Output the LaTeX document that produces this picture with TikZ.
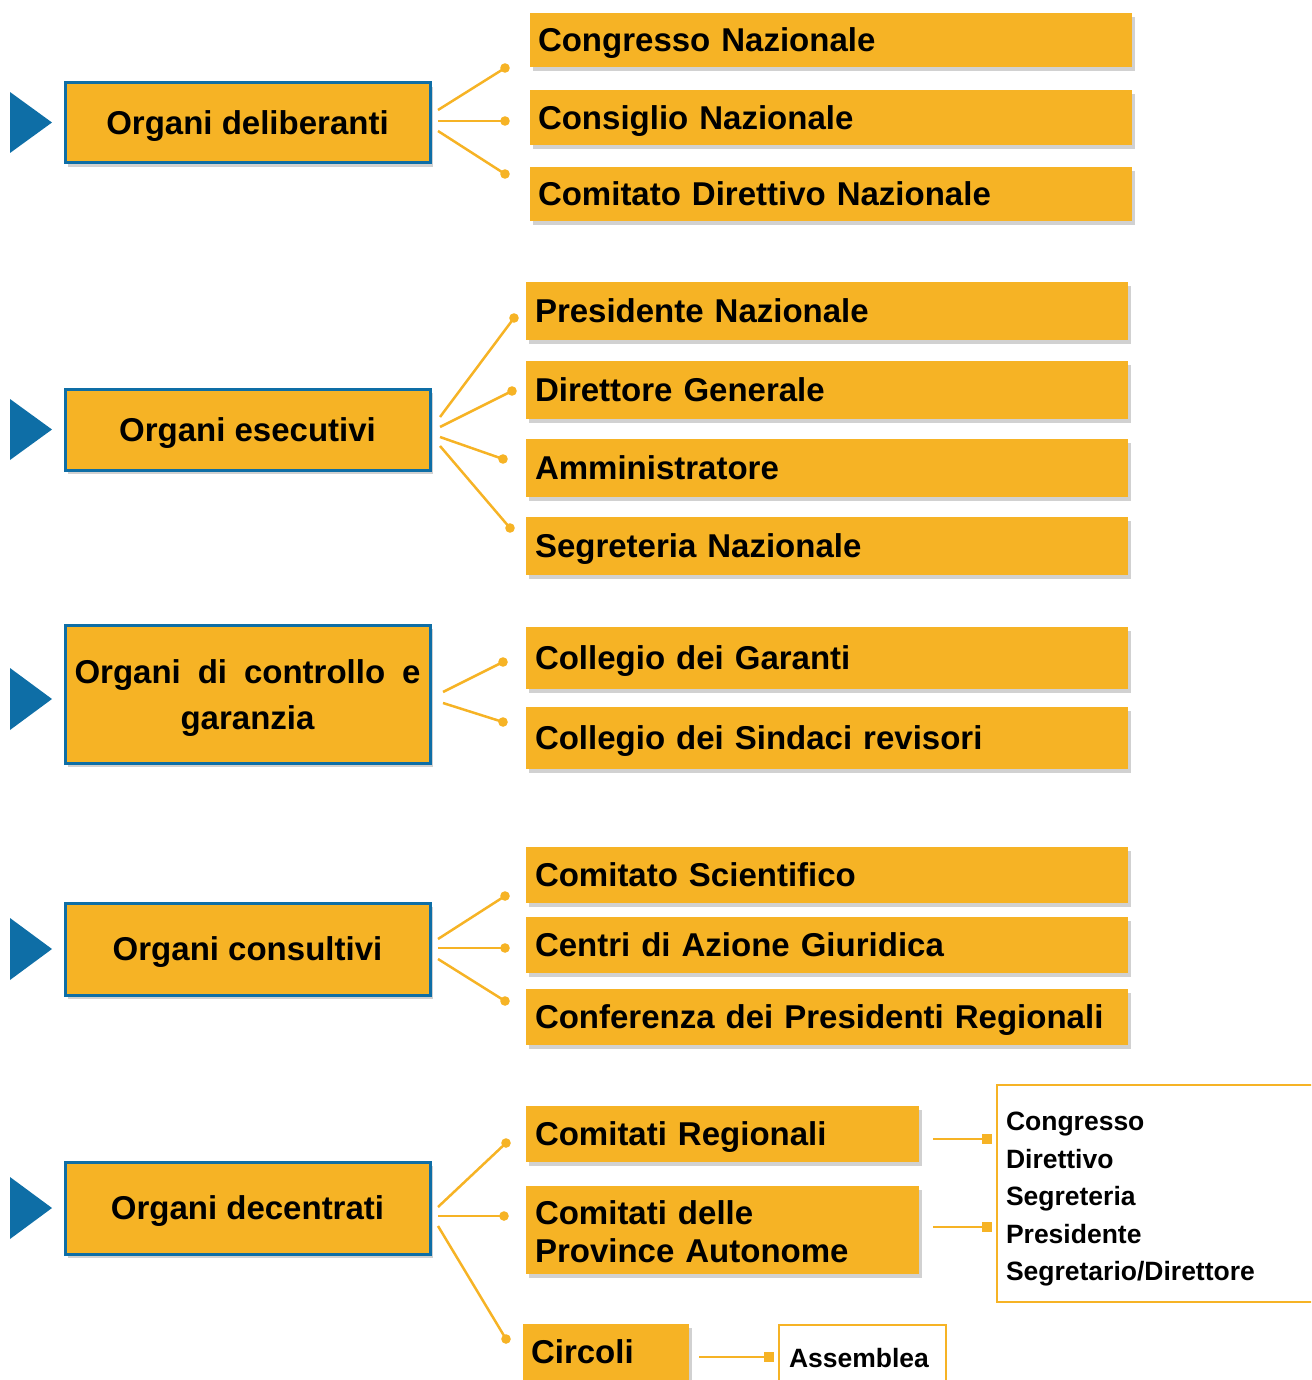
\documentclass[tikz,border=0pt]{standalone}
\usepackage{fontspec}
\setmainfont{Liberation Sans}
\usetikzlibrary{shadows,calc}
\definecolor{org}{HTML}{F6B325}
\definecolor{blu}{HTML}{0E6EA6}
\begin{document}
\begin{tikzpicture}[x=1pt,y=-1pt,
  big/.style={font=\fontsize{33}{38}\selectfont\bfseries},
  small/.style={font=\fontsize{26.5}{37.5}\selectfont\bfseries},
  one/.style={text depth=0pt},
  lbox/.style={big, draw=blu, line width=3pt, fill=org, minimum width=365pt, align=center, inner sep=0pt,
    drop shadow={shadow xshift=3pt, shadow yshift=-4pt, opacity=0.3, fill=black!60}},
  rbox/.style={big, fill=org, inner xsep=9pt, inner ysep=0pt, align=left,
    drop shadow={shadow xshift=3pt, shadow yshift=-4pt, opacity=0.3, fill=black!60}},
  wbox/.style={small, draw=org, line width=2.5pt, fill=white, align=left, inner xsep=9pt, inner ysep=0pt},
  conn/.style={draw=org, line width=2.5pt},
  dot/.style={fill=org},
  tri/.style={fill=blu}
]
\clip (0,0) rectangle (1311,1380);
% left boxes
\node[lbox, one, minimum height=80pt] (d1) at (247.5,123) {Organi deliberanti};
\node[lbox, one, minimum height=81pt] (d2) at (247.5,429.5) {Organi esecutivi};
\node[lbox, minimum height=138pt] (d3) at (247.5,694) {\makebox[346pt][s]{Organi di controllo e\rule{0pt}{32pt}}\\[8pt]garanzia};
\node[lbox, one, minimum height=92pt] (d4) at (247.5,949) {Organi consultivi};
\node[lbox, one, minimum height=92pt] (d5) at (247.5,1208) {Organi decentrati};
% triangles
\fill[tri] (10,92) -- (52,122.5) -- (10,153) -- cycle;
\fill[tri] (10,399) -- (52,429.5) -- (10,460) -- cycle;
\fill[tri] (10,668) -- (52,699) -- (10,730) -- cycle;
\fill[tri] (10,918) -- (52,949) -- (10,980) -- cycle;
\fill[tri] (10,1177) -- (52,1208) -- (10,1239) -- cycle;
% group 1
\node[rbox, one, inner xsep=8pt, text width=586pt, minimum height=54pt] (c11) at (831,40) {Congresso Nazionale};
\node[rbox, one, inner xsep=8pt, text width=586pt, minimum height=55pt] (c12) at (831,117.5) {Consiglio Nazionale};
\node[rbox, one, inner xsep=8pt, text width=586pt, minimum height=54pt] (c13) at (831,194) {Comitato Direttivo Nazionale};
% group 2
\node[rbox, one, text width=584pt, minimum height=58pt] (c21) at (827,311) {Presidente Nazionale};
\node[rbox, one, text width=584pt, minimum height=58pt] (c22) at (827,390) {Direttore Generale};
\node[rbox, one, text width=584pt, minimum height=58pt] (c23) at (827,468) {Amministratore};
\node[rbox, one, text width=584pt, minimum height=58pt] (c24) at (827,546) {Segreteria Nazionale};
% group 3
\node[rbox, one, text width=584pt, minimum height=62pt] (c31) at (827,658) {Collegio dei Garanti};
\node[rbox, one, text width=584pt, minimum height=62pt] (c32) at (827,738) {Collegio dei Sindaci revisori};
% group 4
\node[rbox, one, text width=584pt, minimum height=56pt] (c41) at (827,875) {Comitato Scientifico};
\node[rbox, one, text width=584pt, minimum height=56pt] (c42) at (827,945) {Centri di Azione Giuridica};
\node[rbox, one, text width=584pt, minimum height=56pt] (c43) at (827,1017) {Conferenza dei Presidenti Regionali};
% group 5
\node[rbox, one, text width=375pt, minimum height=56pt] (c51) at (722.5,1134) {Comitati Regionali};
\node[rbox, text width=375pt, minimum height=88pt] (c52) at (722.5,1230) {Comitati delle\rule{0pt}{28pt}\\Province Autonome};
\node[rbox, text depth=10pt, inner xsep=8pt, text width=150pt, minimum height=66pt] (c53) at (606,1357) {Circoli};
\node[wbox, text width=305pt, minimum height=217pt] (w1) at (1158.5,1193.5) {Congresso\rule{0pt}{30pt}\\Direttivo\\Segreteria\\Presidente\\Segretario/Direttore};
\node[wbox, one, inner xsep=10pt, text width=147pt, minimum height=66pt] (w2) at (862.5,1358) {Assemblea};
% connectors group 1
\coordinate (s11) at (438,110); \coordinate (e11) at (505,68);
\coordinate (s12) at (438,121); \coordinate (e12) at (505,121);
\coordinate (s13) at (438,131); \coordinate (e13) at (505,174);
% group 2
\coordinate (s21) at (440,417); \coordinate (e21) at (514,318);
\coordinate (s22) at (440,427); \coordinate (e22) at (512,391);
\coordinate (s23) at (440,437); \coordinate (e23) at (503,459);
\coordinate (s24) at (440,446); \coordinate (e24) at (510,528);
% group 3
\coordinate (s31) at (443,692); \coordinate (e31) at (503,662);
\coordinate (s32) at (443,703); \coordinate (e32) at (503,722);
% group 4
\coordinate (s41) at (438,939); \coordinate (e41) at (505,896);
\coordinate (s42) at (438,948); \coordinate (e42) at (505,948);
\coordinate (s43) at (438,959); \coordinate (e43) at (505,1001);
% group 5
\coordinate (s51) at (438,1207); \coordinate (e51) at (506,1143);
\coordinate (s52) at (438,1216); \coordinate (e52) at (504,1216);
\coordinate (s53) at (438,1226); \coordinate (e53) at (506,1339);
\foreach \c in {11,12,13,21,22,23,24,31,32,41,42,43,51,52,53}{
  \draw[conn] (s\c) -- (e\c);
  \fill[dot] (e\c) circle (4.8);
}
% square connectors
\coordinate (q1) at (933,1139); \coordinate (q2) at (933,1227); \coordinate (q3) at (699,1357);
\coordinate (r1) at (987,1139); \coordinate (r2) at (987,1227); \coordinate (r3) at (769,1357);
\foreach \c in {1,2,3}{
  \draw[conn] (q\c) -- (r\c);
  \fill[dot] ($(r\c)+(-5,-5)$) rectangle ++(10,10);
}
\end{tikzpicture}
\end{document}
